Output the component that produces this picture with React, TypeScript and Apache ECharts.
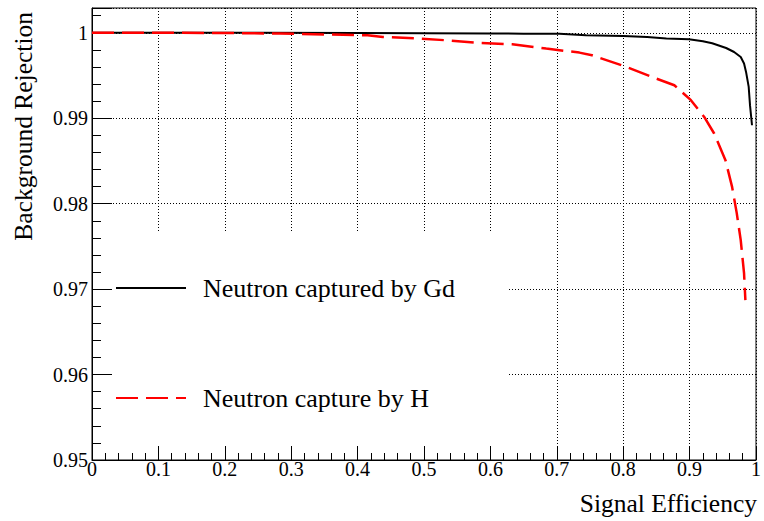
import React, { useEffect, useRef } from "react";
import * as echarts from "echarts";

const gdX = [0, 0.2, 0.4, 0.6, 0.65, 0.704, 0.744, 0.8, 0.836, 0.865, 0.899, 0.92, 0.934, 0.955, 0.967, 0.977, 0.982, 0.985, 0.989, 0.991, 0.994];
const gdY = [1.0, 1.0, 0.99996, 0.99993, 0.99989, 0.99988, 0.99971, 0.99962, 0.99951, 0.99932, 0.99924, 0.99902, 0.99877, 0.99822, 0.99775, 0.99717, 0.9964, 0.99542, 0.99366, 0.9915, 0.98918];

const hX = [0, 0.1, 0.2, 0.283, 0.415, 0.438, 0.493, 0.534, 0.583, 0.633, 0.684, 0.734, 0.753, 0.805, 0.85, 0.877, 0.902, 0.922, 0.937, 0.954, 0.964, 0.971, 0.977, 0.982, 0.984];
const hY = [1.0, 1.0, 0.99997, 0.99991, 0.99971, 0.99951, 0.99932, 0.99912, 0.99881, 0.99865, 0.99815, 0.99768, 0.99737, 0.996, 0.99464, 0.99386, 0.99211, 0.99015, 0.98821, 0.98509, 0.98196, 0.97889, 0.97573, 0.97187, 0.96871];

const seriesNames = ["Neutron captured by Gd", "Neutron capture by H"];
const xTitle = "Signal Efficiency";
const yTitle = "Background Rejection";

const FONT = "'Liberation Serif', 'Times New Roman', serif";

export default function App() {
  const ref = useRef<HTMLDivElement>(null);
  useEffect(() => {
    if (!ref.current) return;
    const chart = echarts.init(ref.current, undefined, { renderer: "svg" });
    const fmtY = (v: number) => {
      if (Math.abs(v * 100 - Math.round(v * 100)) > 1e-6) return "";
      return String(Number(v.toFixed(2)));
    };
    chart.setOption({
      animation: false,
      backgroundColor: "#fff",
      grid: {
        left: 92,
        right: 7,
        top: 8,
        bottom: 61,
        show: true,
        borderColor: "#000",
        borderWidth: 1,
        backgroundColor: "transparent",
      },
      xAxis: {
        type: "value",
        min: 0,
        max: 1,
        interval: 0.1,
        axisLine: { show: true, onZero: false, lineStyle: { color: "#000", width: 1 } },
        axisTick: { show: true, inside: true, length: 14, lineStyle: { color: "#000" } },
        minorTick: { show: true, splitNumber: 5, length: 7, lineStyle: { color: "#000" } },
        axisLabel: {
          color: "#000",
          fontFamily: FONT,
          fontSize: 20,
          margin: -1,
          formatter: (v: number) => String(Number(v.toFixed(2))),
        },
        splitLine: { show: true, lineStyle: { color: "#000", type: [1, 2], width: 1 } },
      },
      yAxis: {
        type: "value",
        min: 0.95,
        max: 1.0029,
        interval: 0.01,
        axisLine: { show: true, onZero: false, lineStyle: { color: "#000", width: 1 } },
        axisTick: { show: true, inside: true, length: 20, lineStyle: { color: "#000" } },
        minorTick: { show: true, splitNumber: 5, length: 9, lineStyle: { color: "#000" } },
        axisLabel: {
          color: "#000",
          fontFamily: FONT,
          fontSize: 20,
          margin: 4,
          showMaxLabel: false,
          formatter: fmtY,
        },
        splitLine: { show: true, lineStyle: { color: "#000", type: [1, 2], width: 1 } },
      },
      legend: {
        orient: "vertical",
        left: 115,
        top: 275,
        padding: 0,
        itemWidth: 70,
        itemHeight: 14,
        itemGap: 84,
        data: seriesNames,
        itemStyle: { opacity: 0 },
        textStyle: {
          color: "#000",
          fontFamily: FONT,
          fontSize: 26,
          lineHeight: 26,
          padding: [0, 0, 0, 12],
        },
      },
      graphic: [
        {
          type: "rect",
          z: 1,
          shape: { x: 112, y: 233, width: 395, height: 213 },
          style: { fill: "#fff" },
          silent: true,
        },
        {
          type: "text",
          x: 757,
          y: 503,
          style: {
            text: xTitle,
            fill: "#000",
            font: `25.5px ${FONT}`,
            align: "right",
            verticalAlign: "middle",
          },
        },
        {
          type: "text",
          x: 23,
          y: 12,
          rotation: Math.PI / 2,
          style: {
            text: yTitle,
            fill: "#000",
            font: `25.5px ${FONT}`,
            align: "right",
            verticalAlign: "middle",
          },
        },
      ],
      series: [
        {
          name: seriesNames[0],
          type: "line",
          data: gdX.map((x, i) => [x, gdY[i]]),
          symbol: "none",
          showSymbol: false,
          z: 3,
          lineStyle: { color: "#000", width: 2 },
          itemStyle: { color: "#000" },
        },
        {
          name: seriesNames[1],
          type: "line",
          data: hX.map((x, i) => [x, hY[i]]),
          symbol: "none",
          showSymbol: false,
          z: 4,
          lineStyle: { color: "#ff0000", width: 2.5, type: [22, 8] },
          itemStyle: { color: "#ff0000" },
        },
      ],
    });
    return () => chart.dispose();
  }, []);
  return (
    <div
      ref={ref}
      style={{ position: "fixed", left: 0, top: 0, width: 764, height: 521 }}
    />
  );
}
